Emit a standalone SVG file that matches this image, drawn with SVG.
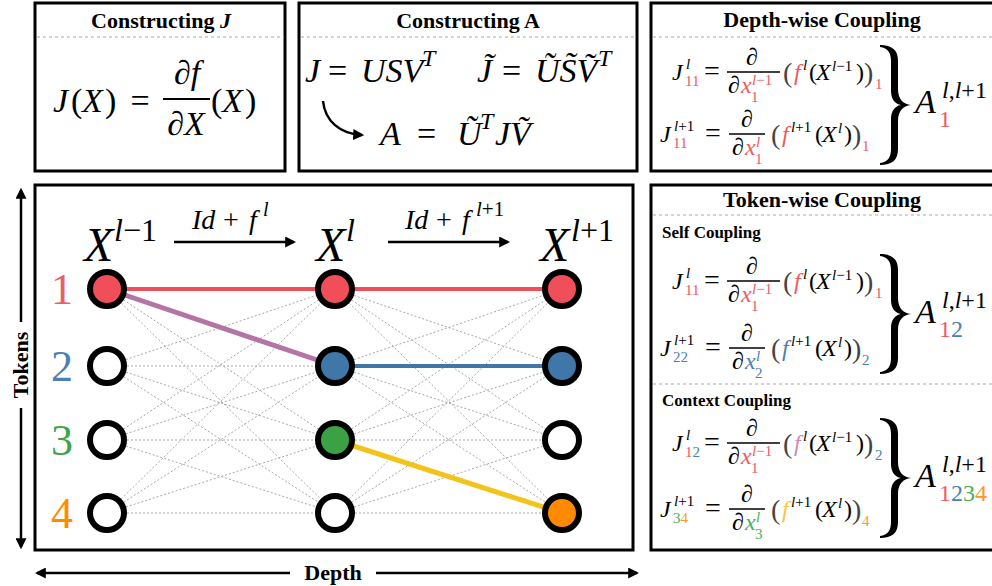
<svg xmlns="http://www.w3.org/2000/svg" xmlns:xlink="http://www.w3.org/1999/xlink" width="992" height="586" viewBox="0 0 992 586">
<defs>
<style>
text { font-family: "Liberation Serif", "Times New Roman", serif; fill: #000; }
.f { font-size: 24px; }
.s { font-size: 15px; }
.it { font-style: italic; }
.eq { font-size: 28px; }
.bp { font-size: 28px; fill: #444; }
.ttl { font-size: 22px; font-weight: bold; text-anchor: middle; }
.sub { font-size: 17px; font-weight: bold; }
.big { font-size: 34px; }
.huge { font-size: 48px; }
.lab { font-size: 22px; font-weight: bold; }
.tok { font-size: 44px; text-anchor: middle; }
.panel { fill: #fff; stroke: #000; stroke-width: 3; }
.div { stroke: #aaa; stroke-width: 1.2; stroke-dasharray: 3 3; fill: none; }
.edge { stroke: #a8a8a8; stroke-width: 1; stroke-dasharray: 2 2; fill: none; }
.node { stroke: #000; stroke-width: 6; }
.arr { stroke: #000; stroke-width: 2.5; fill: none; }
.bar { stroke: #000; stroke-width: 1.3; }
.cR { fill: #EF5A63; }
.cB { fill: #4A80B5; }
.cG { fill: #4DAE52; }
.cO { fill: #F7992C; }
.cP { fill: #C98BBE; }
.cY { fill: #F0C84A; }
.c1 { fill: #E4606A; }
.c2 { fill: #4A80B4; }
.c3 { fill: #3DA447; }
.c4 { fill: #FF8C00; }
</style>
<marker id="ah" viewBox="0 0 10 10" refX="8" refY="5" markerWidth="11" markerHeight="11" markerUnits="userSpaceOnUse" orient="auto-start-reverse">
<path d="M0,0 L10,5 L0,10 z" fill="#000"/>
</marker>
<path id="brace" d="M -15 -60 C -3 -60 3 -55 3 -44 L 3 -16 C 3 -6 8 -1 16 0 C 8 1 3 6 3 16 L 3 44 C 3 55 -3 60 -15 60 L -15 58 C -7 57 -4 52 -4 44 L -4 14 C -4 6 0 1 6 0 C 0 -1 -4 -6 -4 -14 L -4 -44 C -4 -52 -7 -57 -15 -58 Z" fill="#000"/>
</defs>
<rect width="992" height="586" fill="#fff"/>

<!-- Panel 1: Constructing J -->
<g id="panel-constructing-j">
<rect class="panel" x="35" y="3" width="250" height="168"/>
<text class="ttl" x="161" y="28">Constructing <tspan font-style="italic">J</tspan></text>
<line class="div" x1="37" y1="37" x2="284" y2="37"/>
<text class="big"><tspan class="it" x="53" y="112">J</tspan><tspan x="71" y="112">(</tspan><tspan class="it" x="82" y="112">X</tspan><tspan x="105" y="112">)</tspan></text>
<text class="big" x="140" y="112" text-anchor="middle">=</text>
<text class="big it" x="187" y="84" text-anchor="middle">∂f</text>
<line x1="163" y1="99" x2="210" y2="99" stroke="#000" stroke-width="1.8"/>
<text class="big it" x="186" y="135" text-anchor="middle">∂X</text>
<text class="big"><tspan x="211" y="112">(</tspan><tspan class="it" x="222" y="112">X</tspan><tspan x="245" y="112">)</tspan></text>
</g>

<!-- Panel 2: Constructing A -->
<g id="panel-constructing-a">
<rect class="panel" x="299" y="3" width="338" height="168"/>
<text class="ttl" x="468" y="28">Constructing A</text>
<line class="div" x1="301" y1="37" x2="636" y2="37"/>
<text class="big"><tspan class="it" x="305" y="82">J</tspan><tspan x="328" y="82">=</tspan><tspan class="it" x="361" y="82">USV</tspan><tspan class="it" font-size="24" x="422" y="66">T</tspan></text>
<text class="big"><tspan class="it" x="477" y="82">J̃</tspan><tspan x="502" y="82">=</tspan><tspan class="it" x="535" y="82">ŨS̃Ṽ</tspan><tspan class="it" font-size="24" x="598" y="66">T</tspan></text>
<path class="arr" d="M 323 101 C 325 121 340 134 362 135" marker-end="url(#ah)"/>
<text class="big"><tspan class="it" x="380" y="145">A</tspan><tspan x="417" y="145">=</tspan><tspan class="it" x="457" y="145">Ũ</tspan><tspan class="it" font-size="24" x="480" y="129">T</tspan><tspan class="it" x="495" y="145">JṼ</tspan></text>
</g>

<!-- Panel 3: Depth-wise Coupling -->
<g id="panel-depth-coupling">
<rect class="panel" x="651" y="3" width="345" height="168"/>
<text class="ttl" x="822" y="27">Depth-wise Coupling</text>
<line class="div" x1="653" y1="37" x2="992" y2="37"/>
<!-- row 1 -->
<text class="f"><tspan class="it" x="672" y="80">J</tspan><tspan class="s it" x="686" y="69">l</tspan><tspan class="s cR" x="685" y="86">11</tspan><tspan class="eq" x="704" y="80">=</tspan></text>
<text class="f it" x="752" y="65" text-anchor="middle">∂</text>
<line class="bar" x1="727" y1="72" x2="780" y2="72"/>
<text class="f"><tspan class="it" x="728" y="93">∂</tspan><tspan class="it cR" x="741" y="93">x</tspan><tspan class="s it cR" x="752" y="85">l</tspan><tspan class="s cR">−1</tspan><tspan class="s cR" x="751" y="102">1</tspan></text>
<text class="f"><tspan class="bp" x="783" y="82">(</tspan><tspan class="it cR" x="794" y="80">f</tspan><tspan class="s it" x="803" y="70">l</tspan><tspan x="809" y="80">(</tspan><tspan class="it" x="816" y="80">X</tspan><tspan class="s it" x="832" y="71">l</tspan><tspan class="s">−1</tspan><tspan x="856" y="80">)</tspan><tspan class="bp" x="864" y="82">)</tspan><tspan class="s cR" x="875" y="89">1</tspan></text>
<!-- row 2 -->
<text class="f"><tspan class="it" x="660" y="142">J</tspan><tspan class="s it" x="674" y="131">l</tspan><tspan class="s">+1</tspan><tspan class="s cR" x="673" y="148">11</tspan><tspan class="eq" x="705" y="142">=</tspan></text>
<text class="f it" x="747" y="127" text-anchor="middle">∂</text>
<line class="bar" x1="729" y1="134" x2="765" y2="134"/>
<text class="f"><tspan class="it" x="732" y="155">∂</tspan><tspan class="it cR" x="745" y="155">x</tspan><tspan class="s it cR" x="756" y="147">l</tspan><tspan class="s cR" x="755" y="164">1</tspan></text>
<text class="f"><tspan class="bp" x="771" y="144">(</tspan><tspan class="it cR" x="782" y="142">f</tspan><tspan class="s it" x="791" y="132">l</tspan><tspan class="s">+1</tspan><tspan x="815" y="142">(</tspan><tspan class="it" x="822" y="142">X</tspan><tspan class="s it" x="838" y="133">l</tspan><tspan x="844" y="142">)</tspan><tspan class="bp" x="852" y="144">)</tspan><tspan class="s cR" x="862" y="151">1</tspan></text>
<use xlink:href="#brace" href="#brace" transform="translate(895,105)"/>
<text class="big it" x="915" y="113">A</text>
<text font-size="24"><tspan class="it" x="942" y="98">l</tspan><tspan>,</tspan><tspan class="it">l</tspan><tspan>+1</tspan><tspan class="cR" x="939" y="127">1</tspan></text>
</g>

<!-- Panel 4: Token-wise Coupling -->
<g id="panel-token-coupling">
<rect class="panel" x="651" y="185" width="345" height="365"/>
<text class="ttl" x="822" y="207">Token-wise Coupling</text>
<line class="div" x1="653" y1="215" x2="992" y2="215"/>
<text class="sub" x="662" y="238">Self Coupling</text>
<!-- self row 1 -->
<text class="f"><tspan class="it" x="672" y="289">J</tspan><tspan class="s it" x="686" y="278">l</tspan><tspan class="s cR" x="685" y="295">11</tspan><tspan class="eq" x="704" y="289">=</tspan></text>
<text class="f it" x="752" y="274" text-anchor="middle">∂</text>
<line class="bar" x1="727" y1="281" x2="780" y2="281"/>
<text class="f"><tspan class="it" x="728" y="302">∂</tspan><tspan class="it cR" x="741" y="302">x</tspan><tspan class="s it cR" x="752" y="294">l</tspan><tspan class="s cR">−1</tspan><tspan class="s cR" x="751" y="311">1</tspan></text>
<text class="f"><tspan class="bp" x="783" y="291">(</tspan><tspan class="it cR" x="794" y="289">f</tspan><tspan class="s it" x="803" y="279">l</tspan><tspan x="809" y="289">(</tspan><tspan class="it" x="816" y="289">X</tspan><tspan class="s it" x="832" y="280">l</tspan><tspan class="s">−1</tspan><tspan x="856" y="289">)</tspan><tspan class="bp" x="864" y="291">)</tspan><tspan class="s cR" x="875" y="298">1</tspan></text>
<!-- self row 2 -->
<text class="f"><tspan class="it" x="660" y="356">J</tspan><tspan class="s it" x="674" y="345">l</tspan><tspan class="s">+1</tspan><tspan class="s cB" x="673" y="362">22</tspan><tspan class="eq" x="705" y="356">=</tspan></text>
<text class="f it" x="747" y="341" text-anchor="middle">∂</text>
<line class="bar" x1="729" y1="348" x2="765" y2="348"/>
<text class="f"><tspan class="it" x="732" y="369">∂</tspan><tspan class="it cB" x="745" y="369">x</tspan><tspan class="s it cB" x="756" y="361">l</tspan><tspan class="s cB" x="755" y="378">2</tspan></text>
<text class="f"><tspan class="bp" x="771" y="358">(</tspan><tspan class="it cB" x="782" y="356">f</tspan><tspan class="s it" x="791" y="346">l</tspan><tspan class="s">+1</tspan><tspan x="815" y="356">(</tspan><tspan class="it" x="822" y="356">X</tspan><tspan class="s it" x="838" y="347">l</tspan><tspan x="844" y="356">)</tspan><tspan class="bp" x="852" y="358">)</tspan><tspan class="s cB" x="862" y="365">2</tspan></text>
<use xlink:href="#brace" href="#brace" transform="translate(895,314)"/>
<text class="big it" x="915" y="323">A</text>
<text font-size="24"><tspan class="it" x="942" y="308">l</tspan><tspan>,</tspan><tspan class="it">l</tspan><tspan>+1</tspan><tspan class="cR" x="939" y="337">1</tspan><tspan class="cB">2</tspan></text>

<line class="div" x1="653" y1="384" x2="992" y2="384"/>
<text class="sub" x="662" y="406">Context Coupling</text>
<!-- context row 1 -->
<text class="f"><tspan class="it" x="672" y="451">J</tspan><tspan class="s it" x="686" y="440">l</tspan><tspan class="s cR" x="685" y="457">1</tspan><tspan class="s cB">2</tspan><tspan class="eq" x="704" y="451">=</tspan></text>
<text class="f it" x="752" y="436" text-anchor="middle">∂</text>
<line class="bar" x1="727" y1="443" x2="780" y2="443"/>
<text class="f"><tspan class="it" x="728" y="464">∂</tspan><tspan class="it cR" x="741" y="464">x</tspan><tspan class="s it cR" x="752" y="456">l</tspan><tspan class="s cR">−1</tspan><tspan class="s cR" x="751" y="473">1</tspan></text>
<text class="f"><tspan class="bp" x="783" y="453">(</tspan><tspan class="it cP" x="794" y="451">f</tspan><tspan class="s it" x="803" y="441">l</tspan><tspan x="809" y="451">(</tspan><tspan class="it" x="816" y="451">X</tspan><tspan class="s it" x="832" y="442">l</tspan><tspan class="s">−1</tspan><tspan x="856" y="451">)</tspan><tspan class="bp" x="864" y="453">)</tspan><tspan class="s cB" x="875" y="460">2</tspan></text>
<!-- context row 2 -->
<text class="f"><tspan class="it" x="660" y="517">J</tspan><tspan class="s it" x="674" y="506">l</tspan><tspan class="s">+1</tspan><tspan class="s cG" x="673" y="523">3</tspan><tspan class="s cO">4</tspan><tspan class="eq" x="705" y="517">=</tspan></text>
<text class="f it" x="747" y="502" text-anchor="middle">∂</text>
<line class="bar" x1="729" y1="509" x2="765" y2="509"/>
<text class="f"><tspan class="it" x="732" y="530">∂</tspan><tspan class="it cG" x="745" y="530">x</tspan><tspan class="s it cG" x="756" y="522">l</tspan><tspan class="s cG" x="755" y="539">3</tspan></text>
<text class="f"><tspan class="bp" x="771" y="519">(</tspan><tspan class="it cY" x="782" y="517">f</tspan><tspan class="s it" x="791" y="507">l</tspan><tspan class="s">+1</tspan><tspan x="815" y="517">(</tspan><tspan class="it" x="822" y="517">X</tspan><tspan class="s it" x="838" y="508">l</tspan><tspan x="844" y="517">)</tspan><tspan class="bp" x="852" y="519">)</tspan><tspan class="s cO" x="862" y="526">4</tspan></text>
<use xlink:href="#brace" href="#brace" transform="translate(895,478)"/>
<text class="big it" x="915" y="487">A</text>
<text font-size="24"><tspan class="it" x="942" y="472">l</tspan><tspan>,</tspan><tspan class="it">l</tspan><tspan>+1</tspan><tspan class="cR" x="939" y="501">1</tspan><tspan class="cB">2</tspan><tspan class="cG">3</tspan><tspan class="cO">4</tspan></text>
</g>

<!-- Graph panel -->
<g id="panel-graph">
<rect class="panel" x="35" y="185" width="598" height="365"/>
<text class="huge"><tspan class="it" x="84" y="261">X</tspan><tspan class="it" font-size="32" x="114" y="241">l</tspan><tspan font-size="32">−1</tspan></text>
<text class="huge"><tspan class="it" x="316" y="261">X</tspan><tspan class="it" font-size="32" x="346" y="241">l</tspan></text>
<text class="huge"><tspan class="it" x="540" y="261">X</tspan><tspan class="it" font-size="32" x="571" y="241">l</tspan><tspan font-size="32">+1</tspan></text>
<text font-size="28"><tspan class="it" x="192" y="229">Id</tspan><tspan x="223" y="229">+</tspan><tspan class="it" x="249" y="229">f</tspan><tspan class="it" font-size="20" x="263" y="216">l</tspan></text>
<text font-size="28"><tspan class="it" x="405" y="229">Id</tspan><tspan x="436" y="229">+</tspan><tspan class="it" x="462" y="229">f</tspan><tspan class="it" font-size="21" x="476" y="216">l</tspan><tspan font-size="21">+1</tspan></text>
<text class="tok c1" x="62" y="304">1</text>
<text class="tok c2" x="62" y="381">2</text>
<text class="tok c3" x="62" y="455">3</text>
<text class="tok c4" x="62" y="528">4</text>
</g>

<g id="connectors">
<line class="arr" x1="174" y1="242" x2="294" y2="242" marker-end="url(#ah)"/>
<line class="arr" x1="388" y1="242" x2="508" y2="242" marker-end="url(#ah)"/>
<path class="edge" d="M107 289L335 289M107 289L335 366M107 289L335 440M107 289L335 513M107 366L335 289M107 366L335 366M107 366L335 440M107 366L335 513M107 440L335 289M107 440L335 366M107 440L335 440M107 440L335 513M107 513L335 289M107 513L335 366M107 513L335 440M107 513L335 513"/>
<path class="edge" d="M335 289L562 289M335 289L562 366M335 289L562 440M335 289L562 513M335 366L562 289M335 366L562 366M335 366L562 440M335 366L562 513M335 440L562 289M335 440L562 366M335 440L562 440M335 440L562 513M335 513L562 289M335 513L562 366M335 513L562 440M335 513L562 513"/>
<line x1="107" y1="289" x2="562" y2="289" stroke="#F04E58" stroke-width="4"/>
<line x1="107" y1="289" x2="335" y2="366" stroke="#B574A6" stroke-width="5"/>
<line x1="335" y1="366" x2="562" y2="366" stroke="#3F77A8" stroke-width="4"/>
<line x1="335" y1="440" x2="562" y2="513" stroke="#F2C31A" stroke-width="5"/>
<line class="arr" x1="290" y1="573" x2="37" y2="573" marker-end="url(#ah)"/>
<line class="arr" x1="376" y1="573" x2="637" y2="573" marker-end="url(#ah)"/>
<line class="arr" x1="21" y1="322" x2="21" y2="190" marker-end="url(#ah)"/>
<line class="arr" x1="21" y1="408" x2="21" y2="547" marker-end="url(#ah)"/>
</g>

<g id="n1-1"><circle class="node" cx="107" cy="289" r="17" fill="#F04E58"/></g>
<g id="n1-2"><circle class="node" cx="107" cy="366" r="17" fill="#fff"/></g>
<g id="n1-3"><circle class="node" cx="107" cy="440" r="17" fill="#fff"/></g>
<g id="n1-4"><circle class="node" cx="107" cy="513" r="17" fill="#fff"/></g>
<g id="n2-1"><circle class="node" cx="335" cy="289" r="17" fill="#F04E58"/></g>
<g id="n2-2"><circle class="node" cx="335" cy="366" r="17" fill="#3F77A8"/></g>
<g id="n2-3"><circle class="node" cx="335" cy="440" r="17" fill="#3AA145"/></g>
<g id="n2-4"><circle class="node" cx="335" cy="513" r="17" fill="#fff"/></g>
<g id="n3-1"><circle class="node" cx="562" cy="289" r="17" fill="#F04E58"/></g>
<g id="n3-2"><circle class="node" cx="562" cy="366" r="17" fill="#3F77A8"/></g>
<g id="n3-3"><circle class="node" cx="562" cy="440" r="17" fill="#fff"/></g>
<g id="n3-4"><circle class="node" cx="562" cy="513" r="17" fill="#FF8A00"/></g>

<g id="axis-labels">
<text class="lab" x="333" y="580" text-anchor="middle">Depth</text>
<text class="lab" transform="translate(28,365) rotate(-90)" text-anchor="middle">Tokens</text>
</g>
</svg>
